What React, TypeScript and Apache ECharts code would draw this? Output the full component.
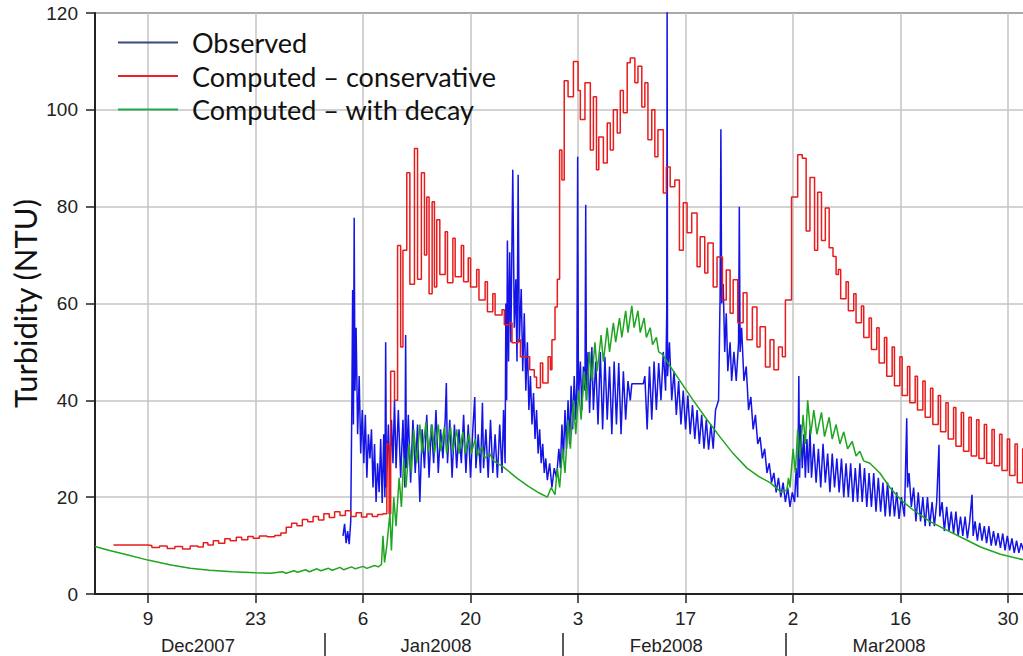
import React, { useEffect, useRef } from "react";
import * as echarts from "echarts";

// x values are days since 2 Dec 2007 00:00
const xMin = 0.1;
const xMax = 121.2;

const tickDays = [7, 21, 35, 49, 63, 77, 91, 105, 119];
const tickLabels = ["9", "23", "6", "20", "3", "17", "2", "16", "30"];
const monthBounds = [30, 61, 90];
const monthMid = [13.5, 44.5, 74.5, 103.5];
const monthLabels = ["Dec2007", "Jan2008", "Feb2008", "Mar2008"];

const yTicks = [0, 20, 40, 60, 80, 100, 120];

const observed: [number, number][] = [
  [32.4, 12], [32.6, 14.5], [32.8, 10.5], [33.0, 13], [33.2, 10.3], [33.4, 15],
  [33.55, 40], [33.65, 62.8], [33.75, 35], [33.85, 77.7], [33.95, 42], [34.1, 55], [34.3, 33], [34.5, 45],
  [34.7, 29], [34.9, 38], [35.1, 27], [35.3, 37], [35.5, 24], [35.7, 33], [35.9, 28], [36.1, 34], [36.3, 22],
  [36.5, 31], [36.7, 19], [36.9, 27], [37.1, 21], [37.3, 32], [37.5, 18.8], [37.7, 33], [37.85, 20], [37.95, 52],
  [38.05, 22], [38.3, 35], [38.5, 24], [38.7, 36], [38.9, 27], [39.1, 40], [39.3, 26], [39.6, 38], [39.9, 24],
  [40.2, 36], [40.45, 22], [40.55, 53.5], [40.65, 26], [40.9, 37], [41.2, 23], [41.5, 36], [41.8, 25], [42.1, 35],
  [42.4, 19], [42.7, 34], [43.0, 26], [43.3, 37], [43.6, 24], [43.9, 35], [44.2, 27], [44.5, 38], [44.8, 25],
  [45.1, 34], [45.4, 28], [45.7, 36], [45.85, 43.6], [46.0, 27], [46.3, 36], [46.6, 24], [46.9, 35], [47.2, 26],
  [47.5, 34], [47.8, 27], [48.1, 37], [48.4, 25], [48.7, 35], [49.0, 24], [49.3, 34], [49.55, 40.7], [49.7, 26],
  [50.0, 33], [50.3, 25], [50.55, 39.5], [50.7, 26], [51.0, 34], [51.3, 24], [51.6, 36], [51.9, 25], [52.2, 33],
  [52.5, 24], [52.8, 35], [53.1, 25], [53.3, 38], [53.5, 27], [53.6, 60], [53.7, 40], [53.8, 73], [53.95, 48],
  [54.1, 70.6], [54.25, 52], [54.5, 87.6], [54.7, 55], [54.9, 65], [55.05, 48], [55.2, 86.6], [55.35, 52],
  [55.6, 63], [55.8, 46], [56.0, 58], [56.2, 42], [56.4, 52], [56.6, 38], [56.8, 45], [57.0, 35], [57.2, 41.5],
  [57.4, 32], [57.6, 38], [57.8, 29], [58.0, 34], [58.2, 27], [58.4, 31], [58.6, 25], [58.8, 28], [59.0, 23.5],
  [59.3, 27], [59.6, 22], [59.9, 26], [60.2, 24], [60.5, 30], [60.7, 26], [60.9, 35], [61.1, 28], [61.3, 38],
  [61.5, 30], [61.7, 40], [61.9, 31], [62.1, 43], [62.3, 34], [62.5, 45], [62.7, 36], [62.85, 44], [62.95, 90.3],
  [63.05, 40], [63.3, 48], [63.5, 38], [63.7, 47], [63.9, 42], [64.0, 80.4], [64.1, 40], [64.3, 50], [64.5, 37.4],
  [64.8, 51], [65.0, 38], [65.3, 48], [65.6, 35], [65.9, 50], [66.2, 34], [66.5, 49], [66.8, 36], [67.1, 47],
  [67.4, 33], [67.7, 48], [68.0, 35], [68.3, 47.7], [68.6, 33], [68.9, 46], [69.2, 36], [69.5, 44], [69.8, 40],
  [70.0, 43.4], [71.5, 43.4], [71.7, 45], [72.0, 34], [72.3, 47], [72.6, 36], [72.9, 48], [73.2, 38], [73.5, 47.7],
  [73.8, 40], [74.1, 50], [74.4, 42], [74.55, 58], [74.6, 125], [74.65, 45], [74.9, 52], [75.2, 40], [75.5, 46],
  [75.8, 37], [76.1, 44], [76.4, 35], [76.7, 42], [77.0, 34], [77.3, 41], [77.6, 33], [77.9, 39], [78.2, 32],
  [78.5, 38], [78.8, 31], [79.1, 37], [79.4, 30], [79.7, 36], [80.0, 29.8], [80.3, 35], [80.6, 30], [80.9, 38],
  [81.3, 40], [81.5, 62], [81.6, 96], [81.7, 60], [81.9, 64], [82.1, 50], [82.3, 58], [82.5, 46], [82.8, 52],
  [83.0, 44], [83.3, 50], [83.6, 44], [83.9, 52], [84.0, 80], [84.1, 50], [84.3, 55], [84.6, 44], [84.9, 47],
  [85.2, 38], [85.5, 40.7], [85.8, 34], [86.1, 37], [86.4, 31], [86.7, 32.4], [87.0, 28], [87.3, 30], [87.6, 25],
  [87.9, 27], [88.2, 23], [88.5, 25], [88.8, 21], [89.1, 24], [89.4, 20], [89.7, 23], [90.0, 19], [90.3, 22],
  [90.6, 18], [90.9, 21], [91.2, 19], [91.4, 26], [91.6, 20], [91.75, 45], [91.85, 24], [92.0, 35], [92.2, 26],
  [92.4, 33], [92.6, 24], [92.8, 32], [93.0, 25], [93.2, 34], [93.4, 24], [93.7, 31], [94.0, 23], [94.3, 30],
  [94.6, 22], [94.9, 31], [95.2, 23], [95.5, 29], [95.8, 21], [96.1, 29], [96.4, 22], [96.7, 28], [97.0, 21],
  [97.3, 28], [97.6, 20], [97.9, 27], [98.2, 20], [98.5, 27], [98.8, 19], [99.1, 26], [99.4, 19], [99.7, 27],
  [100.0, 19], [100.3, 26], [100.6, 18], [100.9, 25], [101.2, 18], [101.5, 25], [101.8, 17], [102.1, 24],
  [102.4, 17], [102.7, 23], [103.0, 16], [103.3, 23], [103.6, 16], [103.9, 22], [104.2, 16], [104.5, 21],
  [104.8, 15.5], [105.1, 20], [105.5, 16], [105.8, 36.3], [105.9, 22], [106.1, 25], [106.4, 18], [106.7, 22],
  [107.0, 15], [107.3, 21], [107.6, 15], [107.9, 20], [108.2, 14], [108.5, 20], [108.8, 14], [109.1, 19],
  [109.4, 14], [109.7, 19], [110.0, 30.8], [110.1, 16], [110.4, 19], [110.7, 13], [111.0, 18], [111.3, 13],
  [111.6, 17], [111.9, 12.5], [112.2, 17], [112.5, 12], [112.8, 16], [113.1, 12], [113.4, 16], [113.7, 11.5],
  [114.0, 15], [114.3, 20.5], [114.45, 12], [114.7, 15], [115.0, 11], [115.3, 14.7], [115.6, 11], [115.9, 14],
  [116.2, 10.5], [116.5, 14], [116.8, 10], [117.1, 13], [117.4, 10], [117.7, 12.6], [118.0, 9.5], [118.3, 12.5],
  [118.6, 9], [118.9, 12], [119.2, 9], [119.5, 11.5], [119.8, 8.5], [120.1, 11], [120.4, 8.5], [120.7, 10.5],
  [121.0, 9], [121.3, 10],
];

const conservative: [number, number][] = [
  [2.5, 10.1], [4.5, 10.1], [6.9, 10.0], [7.5, 9.6], [8.5, 9.9], [9.5, 9.4], [10.5, 9.8], [11.5, 9.3], [12.5, 9.9],
  [13.5, 9.7], [14.2, 10.6], [14.8, 10.1], [15.5, 11.0], [16.2, 10.5], [17.0, 11.4], [17.7, 11.0], [18.5, 11.7],
  [19.2, 11.2], [20.0, 11.9], [20.7, 11.5], [21.5, 12.0], [22.5, 11.8], [23.5, 12.1], [24.3, 12.6], [25.0, 13.8],
  [25.7, 14.6], [26.4, 14.1], [27.1, 15.4], [27.8, 14.9], [28.5, 16.0], [29.2, 15.3], [29.9, 16.6], [30.6, 15.8],
  [31.3, 17.0], [32.0, 16.2], [32.7, 17.2], [33.4, 16.0], [34.1, 16.8], [34.8, 15.9], [35.5, 16.5], [36.2, 16.0],
  [36.9, 16.4], [37.6, 16.6], [38.1, 31], [38.4, 16.5], [38.6, 46], [39.1, 40], [39.5, 72], [39.9, 51], [40.2, 71],
  [40.7, 87], [41.1, 64], [41.7, 92], [42.1, 65], [42.6, 87], [43.0, 70], [43.3, 82], [43.6, 62], [44.0, 81],
  [44.3, 63.4], [44.6, 77.3], [45.0, 66], [45.7, 74.8], [46.0, 64.3], [46.7, 73.5], [47.0, 65.5], [47.8, 72],
  [48.1, 64.5], [48.7, 69.4], [49.0, 63.4], [49.8, 67], [50.1, 60.7], [50.9, 64.5], [51.2, 58.3], [51.9, 62],
  [52.2, 57.6], [53.1, 58.7], [53.4, 55.6], [54.1, 56], [54.4, 51.9], [55.2, 52.5], [55.5, 49], [56.4, 49],
  [56.7, 46.3], [57.3, 44.8], [57.6, 42.6], [58.1, 47.7], [58.4, 43.6], [59.1, 49], [59.4, 46.3], [59.6, 52.5],
  [60.0, 59.3], [60.3, 65], [60.6, 91.7], [60.9, 85.5], [61.2, 106], [61.7, 102.7], [62.4, 110], [63.0, 104],
  [63.3, 98], [63.9, 105.6], [64.6, 91.7], [65.0, 102.7], [65.4, 87.6], [65.7, 94.4], [66.3, 89], [66.8, 97.3],
  [67.2, 91.7], [67.6, 100], [68.1, 95.2], [68.5, 104], [68.9, 99.4], [69.4, 109.7], [69.8, 110.7], [70.4, 105.6],
  [70.8, 109], [71.3, 100.6], [71.7, 105.6], [72.1, 93.8], [72.6, 100], [73.0, 90.3], [73.4, 95.9], [74.1, 82.8],
  [74.5, 88.2], [75.0, 84.1], [75.6, 85.5], [76.2, 71], [76.7, 80.8], [77.2, 74.6], [77.8, 78.7], [78.5, 67.6],
  [78.9, 73.8], [79.5, 66.3], [79.9, 72.5], [80.6, 63.4], [81.1, 69.6], [81.8, 60.7], [82.3, 66.9], [82.8, 58],
  [83.2, 64.9], [83.8, 56], [84.5, 62.2], [85.0, 52.5], [85.7, 59.3], [86.3, 51], [86.7, 55.2], [87.4, 46.9],
  [88.0, 52.5], [88.5, 46.3], [89.1, 51], [89.6, 49], [90.0, 60.7], [90.8, 82], [91.6, 90.7], [92.2, 90],
  [92.7, 75], [93.2, 86], [93.8, 71], [94.2, 83], [94.7, 73], [95.2, 79.7], [95.7, 71.5], [96.2, 69.7], [96.6, 66],
  [96.9, 67], [97.2, 61], [97.9, 64.5], [98.2, 58.5], [98.9, 62], [99.2, 56], [99.9, 59.5], [100.2, 53],
  [100.9, 57], [101.2, 50.5], [101.9, 55], [102.2, 47.7], [102.9, 53], [103.2, 45], [103.9, 51], [104.2, 43],
  [104.9, 49], [105.2, 41], [105.9, 47], [106.2, 39.5], [106.9, 45], [107.2, 38], [107.9, 44], [108.2, 36.5],
  [108.9, 42.5], [109.2, 35], [109.9, 41], [110.2, 33.5], [110.9, 39.5], [111.2, 32], [111.9, 38.5], [112.2, 30.5],
  [112.9, 37.5], [113.2, 29.5], [113.9, 36.5], [114.2, 28.5], [114.9, 36], [115.2, 28], [115.9, 35], [116.2, 27],
  [116.9, 34], [117.2, 26.5], [117.9, 33], [118.2, 25.5], [118.9, 32], [119.2, 24.5], [119.9, 31], [120.2, 23],
  [120.9, 30], [121.2, 25],
];

const withDecay: [number, number][] = [
  [0.1, 9.8], [2, 9.0], [4, 8.2], [7, 7.0], [10, 6.0], [12.5, 5.3], [15, 4.9], [18, 4.6], [21, 4.4], [23, 4.3],
  [24.5, 4.6], [25, 4.3], [26, 4.8], [26.5, 4.5], [27.5, 5.0], [28, 4.6], [29, 5.2], [29.5, 4.8], [30.5, 5.3],
  [31, 4.9], [32, 5.5], [32.5, 5.0], [33.5, 5.6], [34, 5.2], [35, 5.7], [35.5, 5.3], [36.5, 5.9], [37, 5.6],
  [37.4, 6.1], [37.6, 12], [37.8, 6.5], [38.1, 10], [38.5, 16.7], [38.7, 9], [39.0, 20], [39.3, 14], [39.7, 24],
  [40.0, 18], [40.3, 28], [40.6, 22], [41.0, 31], [41.3, 25], [41.6, 34], [42.0, 27], [42.4, 35], [42.7, 29],
  [43.2, 35.5], [43.5, 29.5], [44.0, 35], [44.3, 29], [44.8, 35], [45.1, 29.5], [45.6, 34.5], [45.9, 29],
  [46.4, 34.5], [46.7, 29.5], [47.2, 34], [47.5, 29], [48.0, 33.5], [48.3, 29], [48.8, 33], [49.1, 29], [49.6, 32],
  [49.9, 28.5], [50.5, 30.5], [50.8, 28], [51.5, 29], [52, 27.5], [53.3, 26.2], [55, 24], [56.5, 22.3], [58, 20.8],
  [59, 20], [59.5, 22], [60.0, 20.5], [60.3, 26], [60.6, 22], [61.0, 30], [61.3, 25], [61.7, 36], [62.0, 30],
  [62.4, 40], [62.7, 33], [63.1, 42], [63.4, 36], [63.8, 46], [64.1, 40], [64.5, 50], [64.8, 44], [65.2, 52],
  [65.5, 46], [66.0, 53.5], [66.3, 48], [66.8, 55], [67.1, 50], [67.6, 56], [67.9, 52], [68.4, 57], [68.7, 53],
  [69.2, 58.5], [69.5, 54], [70.0, 59.5], [70.3, 55], [70.8, 58.5], [71.1, 54], [71.6, 57], [71.9, 53], [72.4, 55],
  [72.7, 51.5], [73.2, 53], [73.5, 50], [74, 49.5], [75, 47], [76.5, 43.5], [78, 40], [79.8, 36], [81.5, 32.4],
  [83.2, 29], [85, 26], [86.5, 24.3], [88, 23], [89.5, 21], [90.2, 21.5], [90.4, 24], [90.6, 22], [91.0, 30],
  [91.3, 25], [91.6, 34], [91.9, 28], [92.3, 37], [92.6, 31], [92.9, 40], [93.3, 33], [93.7, 38], [94.1, 33],
  [94.7, 37.5], [95.1, 32.5], [95.7, 36.5], [96.1, 32], [96.6, 35], [97.1, 31], [97.6, 33.5], [98.1, 30],
  [98.7, 31.5], [99.2, 28.5], [99.7, 29.5], [100.2, 27.5], [101, 27], [102.3, 25], [103.6, 22], [105, 19.5],
  [106.6, 17.4], [108.8, 15], [111, 13.2], [113.4, 11.3], [115.4, 9.7], [118, 8.2], [121.2, 7],
];

const seriesNames = ["Observed", "Computed \u2013 conservative", "Computed \u2013 with decay"];
const lineColors = ["#1414e6", "#e81c1c", "#1fa51f"];
const legendColors = ["#3b4a7c", "#e8202a", "#22a84a"];

const AXIS_FONT = "'Liberation Sans', Arial, sans-serif";
const TITLE_FONT = "Lato, 'Open Sans', sans-serif";

export default function App() {
  const ref = useRef<HTMLDivElement>(null);

  useEffect(() => {
    if (!ref.current) return;
    const chart = echarts.init(ref.current, undefined, { renderer: "svg" });
    const nearest = (arr: number[], v: number) => {
      let best = -1;
      let bd = Infinity;
      arr.forEach((a, i) => {
        const d = Math.abs(a - v);
        if (d < bd) { bd = d; best = i; }
      });
      return bd < 0.01 ? best : -1;
    };
    const option: any = {
      animation: false,
      backgroundColor: "#ffffff",
      grid: {
        left: 95, top: 13, right: -2, bottom: 62,
        outerBoundsMode: "none",
        containLabel: false,
        show: true, borderColor: "#222", borderWidth: 1.5, backgroundColor: "transparent",
      },
      legend: {
        orient: "vertical",
        left: 118,
        top: 29,
        padding: 0,
        icon: "rect",
        itemWidth: 60,
        itemHeight: 2,
        itemGap: 6.5,
        textStyle: {
          fontFamily: TITLE_FONT, fontSize: 27, color: "#111", lineHeight: 27, padding: [0, 0, 0, 9],
        },
        data: seriesNames.map((n, i) => ({ name: n, itemStyle: { color: legendColors[i] } })),
      },
      xAxis: [
        {
          type: "value",
          min: xMin,
          max: xMax,
          axisLine: { show: true, lineStyle: { color: "#222", width: 2 } },
          axisTick: { show: true, customValues: tickDays, length: 9, lineStyle: { color: "#222", width: 1.5 } },
          axisLabel: {
            customValues: tickDays,
            margin: 15,
            fontSize: 19,
            fontFamily: AXIS_FONT,
            color: "#222",
            formatter: (v: number) => {
              const i = nearest(tickDays, v);
              return i >= 0 ? tickLabels[i] : "";
            },
          },
          splitLine: { show: true, lineStyle: { color: "#c4c4c4", width: 1.5 } },
        },
        {
          type: "value",
          min: xMin,
          max: xMax,
          position: "bottom",
          offset: 39,
          axisLine: { show: false },
          axisTick: { show: true, customValues: monthBounds, length: 24, lineStyle: { color: "#222", width: 1.5 } },
          axisLabel: {
            customValues: monthMid,
            margin: 3,
            fontSize: 18.5,
            fontFamily: AXIS_FONT,
            color: "#222",
            formatter: (v: number) => {
              const i = nearest(monthMid, v);
              return i >= 0 ? monthLabels[i] : "";
            },
          },
          splitLine: { show: false },
        },
      ],
      yAxis: {
        type: "value",
        min: yTicks[0],
        max: yTicks[yTicks.length - 1],
        interval: 20,
        name: "Turbidity (NTU)",
        nameLocation: "middle",
        nameGap: 55,
        nameMoveOverlap: false,
        nameRotate: 90,
        nameTextStyle: { fontFamily: TITLE_FONT, fontSize: 31, color: "#111" },
        axisLine: { show: true, lineStyle: { color: "#222", width: 2 } },
        axisTick: { show: true, length: 9, lineStyle: { color: "#222", width: 1.5 } },
        axisLabel: { margin: 17, fontSize: 19, fontFamily: AXIS_FONT, color: "#222" },
        splitLine: { show: true, lineStyle: { color: "#c4c4c4", width: 1.5 } },
      },
      series: [
        {
          name: seriesNames[0], type: "line", data: observed, showSymbol: false, symbol: "none",
          lineStyle: { color: lineColors[0], width: 1.5 }, itemStyle: { color: lineColors[0] }, z: 2,
        },
        {
          name: seriesNames[1], type: "line", data: conservative, step: "end", showSymbol: false, symbol: "none",
          lineStyle: { color: lineColors[1], width: 1.5 }, itemStyle: { color: lineColors[1] }, z: 3,
        },
        {
          name: seriesNames[2], type: "line", data: withDecay, showSymbol: false, symbol: "none",
          lineStyle: { color: lineColors[2], width: 1.5 }, itemStyle: { color: lineColors[2] }, z: 4,
        },
      ],
    };
    chart.setOption(option);
    return () => chart.dispose();
  }, []);

  return (
    <div
      ref={ref}
      style={{ position: "absolute", left: 0, top: 0, width: 1023, height: 656, background: "#fff" }}
    />
  );
}
